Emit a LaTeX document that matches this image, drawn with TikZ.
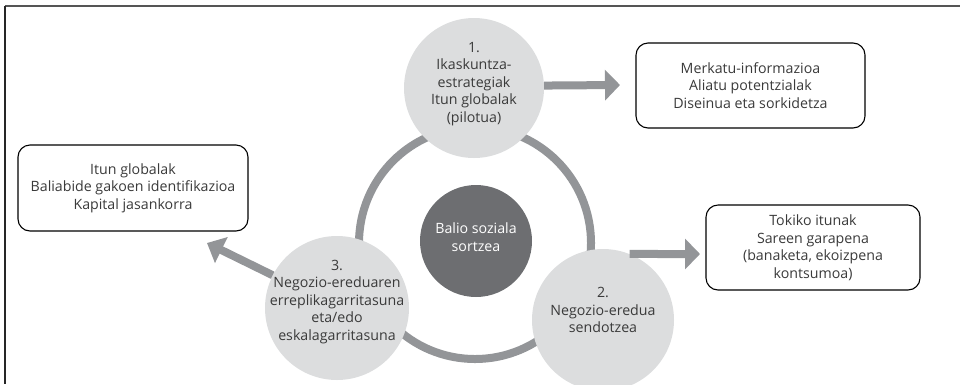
\documentclass[tikz,border=0pt]{standalone}
\usepackage{fontspec}
\setmainfont{Open Sans}
\usetikzlibrary{arrows.meta}
\definecolor{lightc}{HTML}{DCDDDE}
\definecolor{darkc}{HTML}{6D6E71}
\definecolor{ringc}{HTML}{939598}
\definecolor{txt}{HTML}{3A3A3A}
\definecolor{framec}{HTML}{555555}
\begin{document}
\begin{tikzpicture}[x=1pt,y=-1pt,
  lightcirc/.style={circle,fill=lightc,inner sep=0pt},
  ctext/.style={align=center,text=txt,font=\fontsize{14.2}{17.5}\selectfont,inner sep=0pt},
  infobox/.style={draw=black,line width=1.1pt,rounded corners=12pt,align=center,text=txt,font=\fontsize{14.2}{17.5}\selectfont,inner sep=0pt},
  bigarrow/.style={draw=ringc,line width=8pt,-{Triangle[length=15pt,width=30pt]}},
]
\useasboundingbox (0,0) rectangle (960,384);
% frame
\draw[framec,line width=1.6pt] (5,6) -- (960,6);
\draw[black!85,line width=1.6pt] (5,6) -- (5,384);
% ring
\draw[ringc,line width=8pt] (475,243) circle[radius=116];
% circles
\node[lightcirc,minimum size=140pt] (c1) at (474,88) {};
\node[lightcirc,minimum size=142pt] (c2) at (603,320) {};
\node[lightcirc,minimum size=144pt] (c3) at (337,308) {};
\node[circle,fill=darkc,inner sep=0pt,minimum size=112pt] (c0) at (476,241) {};
% texts in circles
\node[ctext] (t1) at (474,84) {1.\\Ikaskuntza-\\estrategiak\\Itun globalak\\(pilotua)};
\node[ctext] (t2) at (603,310) {2.\\Negozio-eredua\\sendotzea};
\node[ctext] (t3) at (337,302) {3.\\Negozio-ereduaren\\erreplikagarritasuna\\eta/edo\\eskalagarritasuna};
\node[ctext,text=white] (t0) at (476,237) {Balio soziala\\sortzea};
% boxes
\node[infobox,minimum width=229pt,minimum height=85pt] (b1) at (750.5,85.5) {Merkatu-informazioa\\Aliatu potentzialak\\Diseinua eta sorkidetza};
\node[infobox,minimum width=230pt,minimum height=86pt] (b2) at (133,188) {Itun globalak\\Baliabide gakoen identifikazioa\\Kapital jasankorra};
\node[infobox,minimum width=214pt,minimum height=85pt] (b3) at (813,247.5) {Tokiko itunak\\Sareen garapena\\(banaketa, ekoizpena\\kontsumoa)};
% arrows
\coordinate (a1) at (620,85);
\coordinate (a2) at (700,254);
\coordinate (a3) at (207,243);
\draw[bigarrow] (c1.2.5) -- (a1);
\draw[bigarrow] (c2.68) -- (a2);
\draw[bigarrow,-{Triangle[length=16pt,width=28pt]}] (c3.153) -- (a3);
\end{tikzpicture}
\end{document}
